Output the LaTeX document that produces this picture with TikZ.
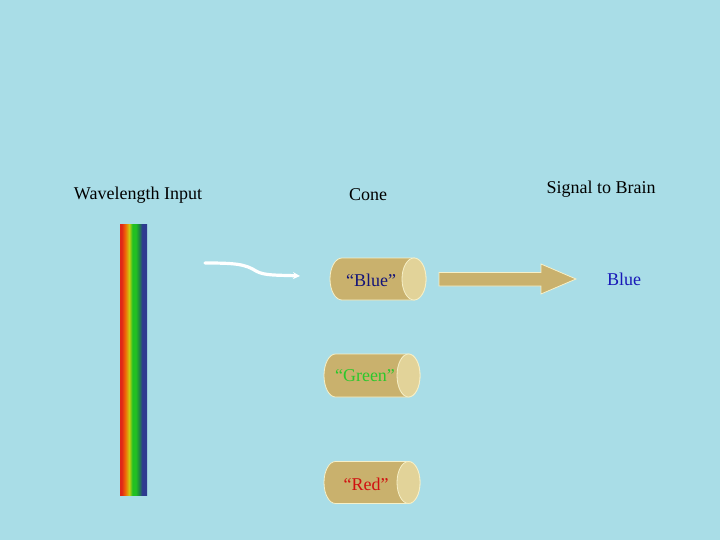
\documentclass[tikz,border=0pt]{standalone}
\usepackage{fontspec}
\setmainfont{Liberation Serif}
\usetikzlibrary{arrows.meta}
\definecolor{bgcol}{HTML}{A9DDE7}
\definecolor{tanbody}{HTML}{C9B16D}
\definecolor{tanend}{HTML}{E2D399}
\definecolor{rimcol}{HTML}{F6F0C8}
\definecolor{navytxt}{HTML}{141478}
\definecolor{bluetxt}{HTML}{1818B8}
\definecolor{greentxt}{HTML}{2CC82C}
\definecolor{redtxt}{HTML}{D01010}
\definecolor{rbred}{HTML}{E02818}
\definecolor{rborange}{HTML}{F06A08}
\definecolor{rbyellow}{HTML}{C8D010}
\definecolor{rbgreen}{HTML}{22C022}
\definecolor{rbdkgreen}{HTML}{1E8A40}
\definecolor{rbnavy}{HTML}{2E3A90}
\pgfdeclarehorizontalshading{rainbowbar}{100bp}{color(0bp)=(rbred); color(28bp)=(rbred); color(35bp)=(rborange); color(42bp)=(rbyellow); color(48bp)=(rbgreen); color(54bp)=(rbgreen); color(60bp)=(rbdkgreen); color(66bp)=(rbnavy); color(100bp)=(rbnavy)}
\tikzset{
  lbl/.style={font=\fontsize{18}{21}\selectfont, inner sep=0pt},
  conebody/.style={fill=tanbody, draw=rimcol, line width=0.8pt},
  coneend/.style={fill=tanend, draw=rimcol, line width=0.8pt},
}
\newcommand{\conecyl}[5]{% left x, right-end center x, center y, ry, rx
  \draw[conebody] (#1+#5,#3-#4) -- (#2,#3-#4) arc[start angle=-90,end angle=90,x radius=#5,y radius=#4] -- (#1+#5,#3+#4) arc[start angle=90,end angle=270,x radius=#5,y radius=#4] -- cycle;
  \draw[coneend] (#2,#3) ellipse[x radius=#5,y radius=#4];
}
\begin{document}
\begin{tikzpicture}[x=1pt,y=-1pt]
\useasboundingbox[fill=bgcol] (0,0) rectangle (720,540);
% titles
\node[lbl] (t1) at (138,195) {Wavelength Input};
\node[lbl] (t2) at (368,195) {Cone};
\node[lbl] (t3) at (601,189) {Signal to Brain};
% rainbow bar
\shade[shading=rainbowbar] (120,225) rectangle (147,495);
\node[inner sep=0pt, minimum width=27pt, minimum height=270pt] (bar) at (133.5,360) {};
% wavy input arrow
\coordinate (ws) at (205,263);
\coordinate (we) at (300,276);
\draw[white, line width=3.2pt, line cap=round, -{Stealth[length=7pt,width=7pt]}] (ws) .. controls (235,263) and (245,264) .. (256,271) .. controls (264,276) and (280,275) .. (we);
% cones
\conecyl{330}{414}{279}{21}{12}
\conecyl{324}{408.5}{375.5}{21.5}{11.5}
\conecyl{324}{408.5}{482.5}{21}{11.5}
\node[lbl, text=navytxt] (cb) at (371,280) {“Blue”};
\node[lbl, text=greentxt] (cg) at (365,376) {“Green”};
\node[lbl, text=redtxt] (cr) at (366,484) {“Red”};
% signal arrow
\coordinate (as) at (439,279);
\node[lbl, text=bluetxt] (sb) at (624,279) {Blue};
\draw[fill=tanbody, draw=rimcol, line width=0.8pt] (439,272.5) -- (541,272.5) -- (541,264) -- (576,279) -- (541,294) -- (541,286) -- (439,286) -- cycle;
\end{tikzpicture}
\end{document}
